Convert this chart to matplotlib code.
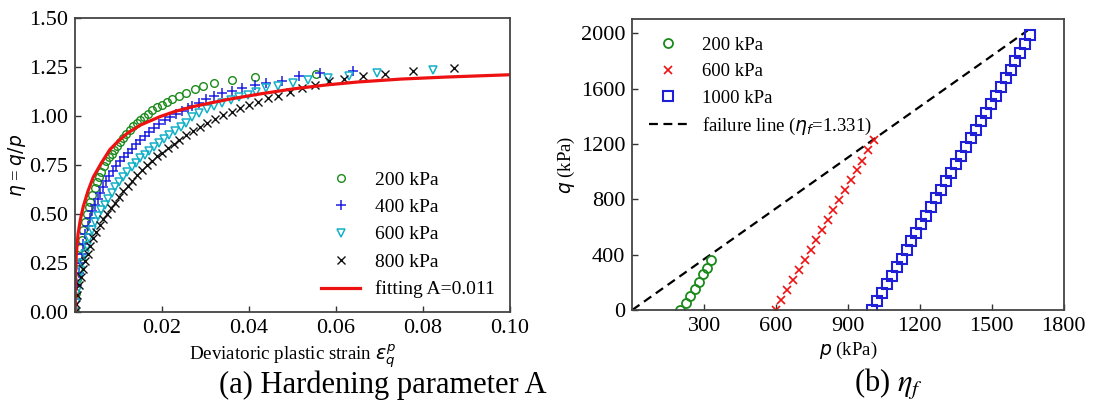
import numpy as np
import matplotlib
matplotlib.use("Agg")
import matplotlib.pyplot as plt

plt.rcParams['font.family'] = ['Liberation Serif', 'DejaVu Serif']
plt.rcParams['mathtext.fontset'] = 'dejavusans'

# ---- (a) hardening parameter data ----
x200 = [0, 0.0002, 0.0004, 0.0006, 0.0009, 0.0012, 0.0015, 0.0019, 0.0023, 0.0027,
        0.0031, 0.0035, 0.0040, 0.0045, 0.0050, 0.0055, 0.0060, 0.0066, 0.0072, 0.0078,
        0.0084, 0.0090, 0.0097, 0.0104, 0.0111, 0.0118, 0.0126, 0.0134, 0.0142, 0.0150,
        0.0159, 0.0168, 0.0178, 0.0188, 0.0199, 0.0211, 0.0224, 0.0238, 0.0255, 0.0275,
        0.0295, 0.0320, 0.0360, 0.0413, 0.0553]
y200 = [0, 0.10, 0.17, 0.22, 0.28, 0.33, 0.37, 0.42, 0.46, 0.50,
        0.535, 0.565, 0.60, 0.635, 0.665, 0.69, 0.715, 0.745, 0.77, 0.79,
        0.81, 0.83, 0.85, 0.87, 0.89, 0.91, 0.93, 0.95, 0.965, 0.98,
        0.995, 1.01, 1.03, 1.045, 1.06, 1.075, 1.09, 1.105, 1.12, 1.14,
        1.155, 1.17, 1.185, 1.20, 1.215]

x400 = [0, 0.0002, 0.0005, 0.0008, 0.0011, 0.0015, 0.0019, 0.0024, 0.0029, 0.0034,
        0.0040, 0.0046, 0.0052, 0.0058, 0.0065, 0.0072, 0.0079, 0.0087, 0.0095, 0.0103,
        0.0112, 0.0121, 0.0130, 0.0140, 0.0150, 0.0160, 0.0171, 0.0182, 0.0194, 0.0206,
        0.0219, 0.0232, 0.0246, 0.0260, 0.0270, 0.0286, 0.0301, 0.0319, 0.0338, 0.0360,
        0.0383, 0.0414, 0.0440, 0.0475, 0.0515, 0.0564, 0.0640]
y400 = [0, 0.07, 0.14, 0.20, 0.25, 0.30, 0.35, 0.40, 0.44, 0.48,
        0.515, 0.55, 0.58, 0.61, 0.64, 0.67, 0.695, 0.72, 0.745, 0.77,
        0.79, 0.815, 0.835, 0.86, 0.88, 0.90, 0.92, 0.94, 0.96, 0.98,
        0.995, 1.01, 1.025, 1.04, 1.053, 1.069, 1.087, 1.104, 1.117, 1.131,
        1.143, 1.160, 1.171, 1.182, 1.205, 1.222, 1.233]

x600 = [0, 0.0002, 0.0005, 0.0009, 0.0013, 0.0017, 0.0022, 0.0027, 0.0033, 0.0039,
        0.0046, 0.0053, 0.0060, 0.0068, 0.0076, 0.0084, 0.0093, 0.0102, 0.0111, 0.0120,
        0.0130, 0.0140, 0.0150, 0.0160, 0.0171, 0.0182, 0.0193, 0.0205, 0.0217, 0.0230,
        0.0243, 0.0256, 0.0270, 0.0286, 0.0303, 0.0319, 0.0338, 0.0358, 0.0378, 0.0398,
        0.0417, 0.0440, 0.0467, 0.0502, 0.0536, 0.0582, 0.0630, 0.0695, 0.0822]
y600 = [0, 0.05, 0.11, 0.17, 0.21, 0.25, 0.30, 0.34, 0.38, 0.42,
        0.46, 0.49, 0.52, 0.55, 0.58, 0.61, 0.64, 0.665, 0.69, 0.715,
        0.74, 0.76, 0.785, 0.805, 0.825, 0.845, 0.865, 0.885, 0.905, 0.925,
        0.945, 0.965, 0.995, 1.018, 1.037, 1.054, 1.069, 1.083, 1.097, 1.109,
        1.126, 1.143, 1.155, 1.171, 1.185, 1.194, 1.208, 1.222, 1.236]

x800 = [0, 0.0002, 0.0005, 0.0009, 0.0013, 0.0018, 0.0023, 0.0029, 0.0035, 0.0042,
        0.0049, 0.0057, 0.0065, 0.0073, 0.0082, 0.0091, 0.0101, 0.0111, 0.0121, 0.0132,
        0.0143, 0.0154, 0.0165, 0.0177, 0.0189, 0.0201, 0.0214, 0.0227, 0.0240, 0.0255,
        0.0272, 0.0287, 0.0304, 0.0322, 0.0341, 0.0360, 0.0379, 0.0400, 0.0421, 0.0444,
        0.0467, 0.0494, 0.0521, 0.0551, 0.0584, 0.0618, 0.0661, 0.0712, 0.0776, 0.0871]
y800 = [0, 0.04, 0.09, 0.14, 0.18, 0.22, 0.26, 0.30, 0.34, 0.38,
        0.41, 0.445, 0.475, 0.50, 0.53, 0.56, 0.59, 0.62, 0.645, 0.67,
        0.70, 0.725, 0.75, 0.77, 0.795, 0.815, 0.84, 0.86, 0.88, 0.905,
        0.927, 0.947, 0.964, 0.985, 1.007, 1.023, 1.041, 1.058, 1.075, 1.092,
        1.104, 1.126, 1.143, 1.160, 1.180, 1.189, 1.206, 1.216, 1.233, 1.245]

xfit = [0, 0.0001, 0.0003, 0.0007, 0.0012, 0.0019, 0.0030, 0.0042, 0.0060, 0.0080,
        0.0100, 0.0120, 0.0150, 0.0195, 0.0230, 0.0272, 0.0349, 0.0425, 0.0502, 0.0578,
        0.0650, 0.0750, 0.0850, 0.1000]
yfit = [0, 0.20, 0.30, 0.40, 0.47, 0.54, 0.62, 0.69, 0.76, 0.83,
        0.875, 0.913, 0.955, 0.998, 1.025, 1.050, 1.085, 1.114, 1.140, 1.160,
        1.175, 1.190, 1.200, 1.212]

# ---- (b) stress paths ----
p200 = [200, 225, 243, 260, 278, 295, 313, 328]
q200 = [0, 50, 100, 153, 205, 258, 306, 362]

p600 = [600, 623, 648, 672, 697, 720, 745, 768, 793, 817, 840, 865, 888, 913, 937, 960, 985, 1008]
q600 = [0, 70, 145, 215, 290, 360, 435, 505, 580, 650, 720, 795, 865, 940, 1010, 1080, 1155, 1230]

q1000 = [0, 62, 124, 186, 248, 310, 372, 434, 496, 558, 620, 682, 744, 806, 868, 930, 992,
         1054, 1116, 1178, 1240, 1302, 1364, 1426, 1488, 1550, 1612, 1674, 1736, 1798, 1860,
         1922, 1984]
p1000 = [1000, 1021, 1041, 1062, 1083, 1103, 1124, 1145, 1165, 1186, 1207, 1227, 1248, 1269,
         1289, 1310, 1331, 1351, 1372, 1393, 1413, 1434, 1455, 1475, 1496, 1517, 1537, 1558,
         1579, 1599, 1620, 1641, 1661]

pfail = [0, 1650]
qfail = [0, 2020]

fig = plt.figure(figsize=(10.97, 4.13), dpi=100)
ax1 = fig.add_axes([0.0684, 0.2438, 0.3965, 0.7119])
ax2 = fig.add_axes([0.5763, 0.2494, 0.3932, 0.7046])

tick_fs = 16
leg_fs = 14

ax1.plot(x200, y200, 'o', mfc='none', mec='#1a8a1a', ms=5.5, mew=1.0, label='200 kPa')
ax1.plot(x400, y400, '+', color='#1f1fe0', ms=6.5, mew=1.1, label='400 kPa')
ax1.plot(x600, y600, 'v', mfc='none', mec='#13b0c8', ms=6, mew=1.1, label='600 kPa')
ax1.plot(x800, y800, 'x', color='#111111', ms=5.5, mew=1.0, label='800 kPa')
ax1.plot(xfit, yfit, '-', color='#ee1111', lw=2.3, label='fitting A=0.011')
ax1.set_xlim(0, 0.1)
ax1.set_ylim(0, 1.5)
ax1.set_xticks([0.02, 0.04, 0.06, 0.08, 0.10])
ax1.set_xticklabels(['0.02', '0.04', '0.06', '0.08', '0.10'])
ax1.set_yticks([0, 0.25, 0.5, 0.75, 1.0, 1.25, 1.5])
ax1.set_yticklabels(['0.00', '0.25', '0.50', '0.75', '1.00', '1.25', '1.50'])
ax1.set_xlabel(r'Deviatoric plastic strain $\varepsilon_q^p$', fontsize=13.7, labelpad=3)
ax1.set_ylabel(r'$\eta$ = $q/p$', fontsize=13.5, labelpad=1)
ax1.legend(loc='upper left', bbox_to_anchor=(0.566, 0.48), frameon=False, fontsize=leg_fs,
           handlelength=2.0, handletextpad=0.75, labelspacing=0.5, borderpad=0, borderaxespad=0)

ax2.plot(pfail, qfail, '--', color='black', lw=1.6, dashes=(4, 2.5), label=r'failure line ($\eta_f$=1.331)')
ax2.plot(p200, q200, 'o', mfc='none', mec='#1a8a1a', ms=6.5, mew=1.3, label='200 kPa')
ax2.plot(p600, q600, 'x', color='#ee1111', ms=6, mew=1.2, label='600 kPa')
ax2.plot(p1000, q1000, 's', mfc='none', mec='#1f1fd8', ms=7, mew=1.5, label='1000 kPa')
ax2.set_xlim(0, 1800)
ax2.set_ylim(0, 2103)
ax2.set_xticks([300, 600, 900, 1200, 1500, 1800])
ax2.set_yticks([0, 400, 800, 1200, 1600, 2000])
ax2.set_xlabel(r'$p$ (kPa)', fontsize=13.5, labelpad=3)
ax2.set_ylabel(r'$q$ (kPa)', fontsize=13.5, labelpad=3)
h, l = ax2.get_legend_handles_labels()
order = [1, 2, 3, 0]
ax2.legend([h[i] for i in order], [l[i] for i in order], loc='upper left',
           bbox_to_anchor=(0.04, 0.94), frameon=False, fontsize=leg_fs - 0.5,
           handlelength=2.0, handletextpad=0.8, labelspacing=0.5, borderpad=0, borderaxespad=0)

for ax in (ax1, ax2):
    ax.tick_params(direction='in', labelsize=tick_fs, length=4, width=1, pad=5,
                   top=False, right=False, color='#333333')
    for s in ax.spines.values():
        s.set_linewidth(1.3)
        s.set_color('#444444')

fig.text(0.349, 0.068, '(a) Hardening parameter A', fontsize=22, ha='center', va='center')
fig.text(0.81, 0.068, r'(b) $\eta_f$', fontsize=22, ha='center', va='center', math_fontfamily='stix')

fig.savefig('out.png', dpi=100)
